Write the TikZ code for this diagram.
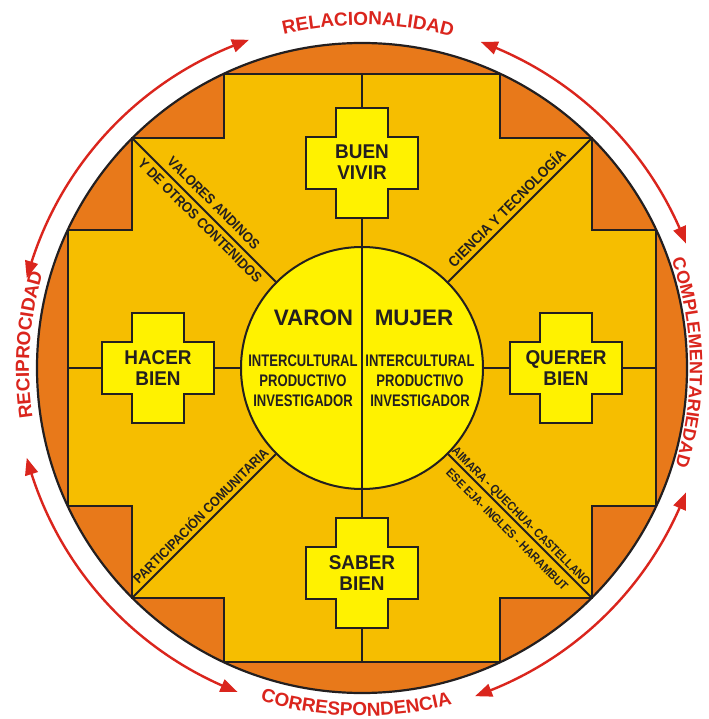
\documentclass[tikz,border=0pt]{standalone}
\usepackage{fontspec}
\setmainfont{Liberation Sans}
\newfontfamily\crossfont[FakeStretch=0.95]{Liberation Sans}
\newfontfamily\centfont[FakeStretch=0.78]{Liberation Sans}
\newfontfamily\diagfont[FakeStretch=0.9]{Liberation Sans}
\usetikzlibrary{arrows.meta,bending,decorations.text}
\definecolor{orangeC}{RGB}{232,121,26}
\definecolor{goldC}{RGB}{246,190,0}
\definecolor{yellowC}{RGB}{255,242,0}
\definecolor{redC}{RGB}{218,37,29}
\definecolor{lineC}{RGB}{35,31,32}
\newcommand\lblfont{\bfseries\fontsize{19}{19}\selectfont}
\newcommand\lblfontR{\bfseries\fontsize{18}{18}\selectfont}
\begin{document}
\begin{tikzpicture}[x=1bp,y=1bp,
  divline/.style={draw=lineC, line width=2bp},
  outline/.style={draw=lineC, line width=2.2bp},
  redarc/.style={draw=redC, line width=2.4bp,
    arrows={Triangle[length=17bp,width=13bp,bend]-Triangle[length=17bp,width=13bp,bend]}},
  crossstyle/.style={draw=lineC, line width=2bp, fill=yellowC, line join=miter},
  crosstext/.style={align=center, inner sep=0pt, text=lineC,
    font=\crossfont\bfseries\fontsize{20}{21.5}\selectfont},
  centerlbl/.style={inner sep=0pt, text=lineC, font=\bfseries\fontsize{22.5}{22.5}\selectfont},
  qual/.style={align=center, inner sep=0pt, text=lineC,
    font=\centfont\bfseries\fontsize{16.8}{20}\selectfont},
  diaglbl/.style={sloped, inner sep=0pt, text depth=0pt, text=lineC},
  andcross/.pic={\draw[crossstyle] (-26,55) -- (26,55) -- (26,26) -- (56,26) -- (56,-26)
     -- (26,-26) -- (26,-55) -- (-26,-55) -- (-26,-26) -- (-56,-26) -- (-56,26)
     -- (-26,26) -- cycle;}
]
\useasboundingbox (-362,-351) rectangle (347,368);
% outer disc
\fill[orangeC] (0,0) circle[radius=325];
\draw[draw=lineC, line width=2bp, fill=goldC, line join=miter]
  (-138,294) -- (138,294) -- (138,230) -- (230,230) -- (230,138) -- (294,138)
  -- (294,-138) -- (230,-138) -- (230,-230) -- (138,-230) -- (138,-294)
  -- (-138,-294) -- (-138,-230) -- (-230,-230) -- (-230,-138) -- (-294,-138)
  -- (-294,138) -- (-230,138) -- (-230,230) -- (-138,230) -- cycle;
\draw[outline] (0,0) circle[radius=325];
% coordinates
\coordinate (nw) at (-230,230);
\coordinate (ne) at (230,230);
\coordinate (sw) at (-230,-230);
\coordinate (se) at (230,-230);
\coordinate (top) at (0,294);
\coordinate (bot) at (0,-294);
\coordinate (lft) at (-294,0);
\coordinate (rgt) at (294,0);
\draw[divline] (lft) -- (rgt);
\node[circle, minimum size=242bp, inner sep=0pt, fill=yellowC, draw=lineC, line width=2bp] (core) at (0,0) {};
\draw[divline] (top) -- (bot);
% diagonal lines with labels
\draw[divline] (nw) -- (core.135)
  node[diaglbl, pos=0.51, above=5.9bp, text height=10.2bp,
       font=\diagfont\bfseries\fontsize{14.3}{14.3}\selectfont] (valores) {VALORES ANDINOS}
  node[diaglbl, pos=0.525, below=4.1bp, text height=10.2bp,
       font=\diagfont\bfseries\fontsize{14.3}{14.3}\selectfont] (otros) {Y DE OTROS CONTENIDOS};
\draw[divline] (core.45) -- (ne)
  node[diaglbl, pos=0.46, above=4.2bp, text height=10.6bp,
       font=\diagfont\bfseries\fontsize{14.8}{14.8}\selectfont] (ciencia) {CIENCIA Y TECNOLOGÍA};
\draw[divline] (sw) -- (core.225)
  node[diaglbl, pos=0.526, above=3.6bp, text height=9.8bp,
       font=\diagfont\bfseries\fontsize{13.7}{13.7}\selectfont] (particip) {PARTICIPACIÓN COMUNITARIA};
\draw[divline] (core.315) -- (se)
  node[diaglbl, pos=0.47, above=2.8bp, text height=8.7bp,
       font=\diagfont\bfseries\fontsize{12.2}{12.2}\selectfont] (aimara) {AIMARA - QUECHUA- CASTELLANO}
  node[diaglbl, pos=0.467, below=6.2bp, text height=8.7bp,
       font=\diagfont\bfseries\fontsize{12.2}{12.2}\selectfont] (ese) {ESE EJA- INGLES - HARAMBUT};
% crosses
\pic at (0,205) {andcross};
\node[crosstext] (buen) at (0,206) {BUEN\\VIVIR};
\pic at (-204,0) {andcross};
\node[crosstext] (hacer) at (-204,0) {HACER\\BIEN};
\pic at (204,0) {andcross};
\node[crosstext] (querer) at (204,0) {QUERER\\BIEN};
\pic at (0,-205) {andcross};
\node[crosstext] (saber) at (0,-205) {SABER\\BIEN};
% center texts
\node[centerlbl] (varon) at (-48.5,50.5) {VARON};
\node[centerlbl] (mujer) at (52,50.5) {MUJER};
\node[qual] (qualL) at (-59,-13) {INTERCULTURAL\\PRODUCTIVO\\INVESTIGADOR};
\node[qual] (qualR) at (58,-13) {INTERCULTURAL\\PRODUCTIVO\\INVESTIGADOR};
% outer arrows
\draw[redarc] (109:347) arc[start angle=109, end angle=165, radius=347];
\draw[redarc] (21:347) arc[start angle=21, end angle=70, radius=347];
\draw[redarc] (-71:347) arc[start angle=-71, end angle=-21, radius=347];
\draw[redarc] (195:347) arc[start angle=195, end angle=249, radius=347];
% outer labels
\path[decorate, decoration={text along path, text align=center, text color=redC,
   text={|\lblfont|RELACIONALIDAD}}] (119:343) arc[start angle=119, end angle=59, radius=343];
\path[decorate, decoration={text along path, text align=center, text color=redC,
   text={|\lblfontR|COMPLEMENTARIEDAD}}] (31:328) arc[start angle=31, end angle=-29, radius=328];
\path[decorate, decoration={text along path, text align=center, text color=redC,
   text={|\lblfont|CORRESPONDENCIA}}] (239:348) arc[start angle=239, end angle=299, radius=348];
\path[decorate, decoration={text along path, text align=center, text color=redC,
   text={|\lblfont|RECIPROCIDAD}}] (206:333) arc[start angle=206, end angle=146, radius=333];
\end{tikzpicture}
\end{document}
